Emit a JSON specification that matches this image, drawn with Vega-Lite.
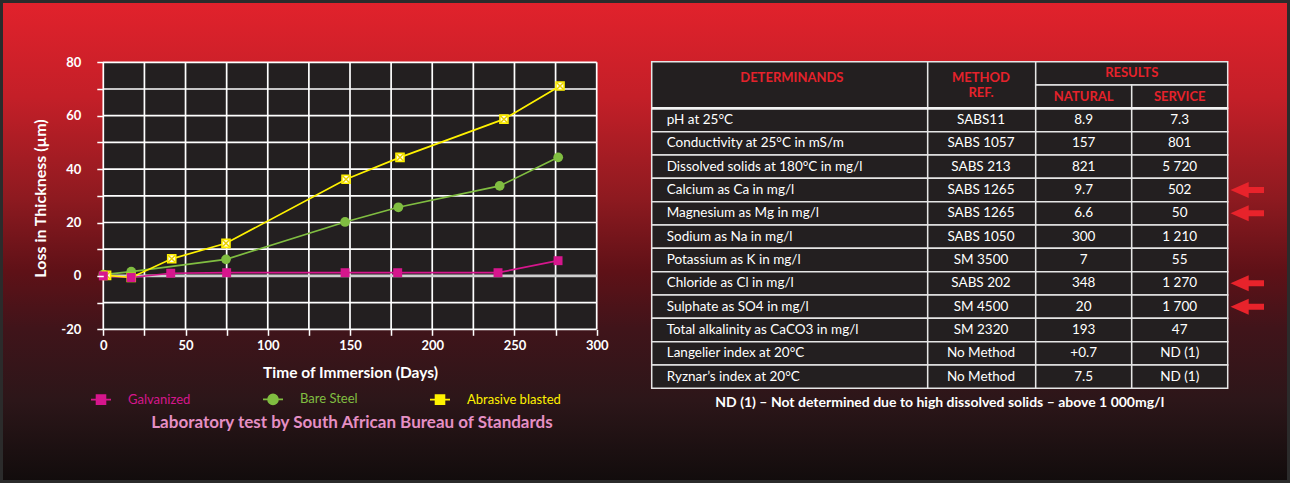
{
  "$schema": "https://vega.github.io/schema/vega-lite/v6.json",
  "width": 1290,
  "height": 483,
  "padding": 0,
  "autosize": {"type": "none"},
  "background": "#120d0d",
  "config": {"view": {"stroke": null}, "font": "Lato", "axis": {"grid": false, "domain": false}},
  "title": {"text": "Laboratory test by South African Bureau of Standards", "orient": "bottom", "anchor": "start", "frame": "group", "align": "center", "baseline": "middle", "dx": 352, "dy": -63, "offset": 0, "color": "#e58fc4", "fontSize": 17, "fontWeight": "bold", "font": "Lato"},
  "datasets": {
    "series": [
      {"series": "Galvanized", "day": 0, "loss": 0},
      {"series": "Galvanized", "day": 17, "loss": -0.6},
      {"series": "Galvanized", "day": 41, "loss": 1.0},
      {"series": "Galvanized", "day": 75, "loss": 1.2},
      {"series": "Galvanized", "day": 147, "loss": 1.2},
      {"series": "Galvanized", "day": 179, "loss": 1.2},
      {"series": "Galvanized", "day": 240, "loss": 1.2},
      {"series": "Galvanized", "day": 276.5, "loss": 5.7},
      {"series": "Bare Steel", "day": 0, "loss": 0.5},
      {"series": "Bare Steel", "day": 17, "loss": 1.6},
      {"series": "Bare Steel", "day": 74.6, "loss": 6.2},
      {"series": "Bare Steel", "day": 147, "loss": 20.2},
      {"series": "Bare Steel", "day": 179.4, "loss": 25.7},
      {"series": "Bare Steel", "day": 241, "loss": 33.7},
      {"series": "Bare Steel", "day": 276.6, "loss": 44.4},
      {"series": "Abrasive blasted", "day": 2, "loss": 0.2},
      {"series": "Abrasive blasted", "day": 17, "loss": -0.6},
      {"series": "Abrasive blasted", "day": 41.6, "loss": 6.4},
      {"series": "Abrasive blasted", "day": 74.6, "loss": 12.2},
      {"series": "Abrasive blasted", "day": 147.6, "loss": 36.2},
      {"series": "Abrasive blasted", "day": 180.4, "loss": 44.4},
      {"series": "Abrasive blasted", "day": 243.6, "loss": 58.7},
      {"series": "Abrasive blasted", "day": 277.7, "loss": 71.1}
    ],
    "gridx": [{"day": 0}, {"day": 25}, {"day": 50}, {"day": 75}, {"day": 100}, {"day": 125}, {"day": 150}, {"day": 175}, {"day": 200}, {"day": 225}, {"day": 250}, {"day": 275}, {"day": 300}],
    "gridy": [{"loss": -20}, {"loss": -10}, {"loss": 0}, {"loss": 10}, {"loss": 20}, {"loss": 30}, {"loss": 40}, {"loss": 50}, {"loss": 60}, {"loss": 70}, {"loss": 80}],
    "table": [
      {"row": "r1", "determinand": "pH at 25°C", "method": "SABS11", "natural": "8.9", "service": "7.3", "flag": false},
      {"row": "r2", "determinand": "Conductivity at 25°C in mS/m", "method": "SABS 1057", "natural": "157", "service": "801", "flag": false},
      {"row": "r3", "determinand": "Dissolved solids at 180°C in mg/l", "method": "SABS 213", "natural": "821", "service": "5 720", "flag": false},
      {"row": "r4", "determinand": "Calcium as Ca in mg/l", "method": "SABS 1265", "natural": "9.7", "service": "502", "flag": true},
      {"row": "r5", "determinand": "Magnesium as Mg in mg/l", "method": "SABS 1265", "natural": "6.6", "service": "50", "flag": true},
      {"row": "r6", "determinand": "Sodium as Na in mg/l", "method": "SABS 1050", "natural": "300", "service": "1 210", "flag": false},
      {"row": "r7", "determinand": "Potassium as K in mg/l", "method": "SM 3500", "natural": "7", "service": "55", "flag": false},
      {"row": "r8", "determinand": "Chloride as Cl in mg/l", "method": "SABS 202", "natural": "348", "service": "1 270", "flag": true},
      {"row": "r9", "determinand": "Sulphate as SO4 in mg/l", "method": "SM 4500", "natural": "20", "service": "1 700", "flag": true},
      {"row": "r10", "determinand": "Total alkalinity as CaCO3 in mg/l", "method": "SM 2320", "natural": "193", "service": "47", "flag": false},
      {"row": "r11", "determinand": "Langelier index at 20°C", "method": "No Method", "natural": "+0.7", "service": "ND (1)", "flag": false},
      {"row": "r12", "determinand": "Ryznar’s index at 20°C", "method": "No Method", "natural": "7.5", "service": "ND (1)", "flag": false}
    ]
  },
  "resolve": {"scale": {"x": "independent", "y": "independent"}},
  "layer": [
    {
      "data": {"values": [{}]},
      "mark": {"type": "rect", "stroke": "#2b2b2b", "strokeWidth": 6, "fill": {"gradient": "linear", "x1": 0, "y1": 0, "x2": 0, "y2": 1, "stops": [
        {"offset": 0, "color": "#e2222c"},
        {"offset": 0.2, "color": "#c41f28"},
        {"offset": 0.41, "color": "#8e1a20"},
        {"offset": 0.56, "color": "#5f1117"},
        {"offset": 0.68, "color": "#40141a"},
        {"offset": 0.83, "color": "#2c1619"},
        {"offset": 1, "color": "#110c0c"}
      ]}},
      "encoding": {}
    },
    {
      "layer": [
        {
          "data": {"values": [{}]},
          "mark": {"type": "rect", "fill": "#231f20"},
          "encoding": {
            "x": {"datum": 0, "type": "quantitative", "scale": {"domain": [0, 300], "range": [103.3, 596.7], "nice": false, "zero": false}},
            "x2": {"datum": 300},
            "y": {"datum": -20, "type": "quantitative", "scale": {"domain": [-20, 80], "range": [329.3, 62.3], "nice": false, "zero": false}},
            "y2": {"datum": 80}
          }
        },
        {
          "data": {"name": "gridx"},
          "mark": {"type": "rule", "color": "#ffffff", "strokeWidth": 1.7},
          "encoding": {
            "x": {"field": "day", "type": "quantitative"},
            "y": {"datum": -20, "type": "quantitative"},
            "y2": {"datum": 80}
          }
        },
        {
          "data": {"name": "gridy"},
          "mark": {"type": "rule"},
          "encoding": {
            "y": {"field": "loss", "type": "quantitative"},
            "x": {"datum": 0, "type": "quantitative"},
            "x2": {"datum": 300},
            "stroke": {"condition": {"test": "datum.loss === 0", "value": "#cfcfcf"}, "value": "#ffffff"},
            "strokeWidth": {"condition": {"test": "datum.loss === 0", "value": 2.6}, "value": 1.7}
          }
        },
        {
          "data": {"name": "series"},
          "mark": {"type": "line", "strokeWidth": 1.7},
          "encoding": {
            "x": {"field": "day", "type": "quantitative",
              "axis": {"zindex": 2, "values": [0, 25, 50, 75, 100, 125, 150, 175, 200, 225, 250, 275, 300], "labelExpr": "datum.value % 50 == 0 ? datum.label : ''", "orient": "bottom", "offset": -153.7, "domain": false, "grid": false, "ticks": true, "tickColor": "#ffffff", "tickSize": 6, "tickWidth": 1.5, "labelColor": "#ffffff", "labelFont": "Lato", "labelFontSize": 13, "labelFontWeight": "bold", "labelPadding": 4, "labelFlush": false, "labelOverlap": false, "title": "Time of Immersion (Days)", "titleColor": "#ffffff", "titleFont": "Lato", "titleFontSize": 15.5, "titleFontWeight": "bold", "titleX": 350, "titleY": 43, "titleBaseline": "middle", "titleAlign": "center"}},
            "y": {"field": "loss", "type": "quantitative",
              "axis": {"zindex": 2, "values": [-20, -10, 0, 10, 20, 30, 40, 50, 60, 70, 80], "labelExpr": "datum.value % 20 == 0 ? replace(datum.label, '−', '-') : ''", "orient": "left", "offset": -103.3, "domain": false, "grid": false, "ticks": true, "tickColor": "#ffffff", "tickSize": 6.5, "tickWidth": 1.5, "labelColor": "#ffffff", "labelFont": "Lato", "labelFontSize": 13, "labelFontWeight": "bold", "labelPadding": 16, "labelOverlap": false, "labelFlush": false, "title": "Loss in Thickness (µm)", "titleColor": "#ffffff", "titleFont": "Lato", "titleFontSize": 16, "titleFontWeight": "bold", "titleX": -63, "titleY": 198, "titleAngle": -90, "titleBaseline": "middle", "titleAlign": "center"}},
            "color": {"field": "series", "type": "nominal", "scale": {"domain": ["Galvanized", "Bare Steel", "Abrasive blasted"], "range": ["#d6168d", "#80bd41", "#fff200"]}}
          }
        },
        {
          "data": {"name": "series"},
          "mark": {"type": "point", "filled": true, "opacity": 0},
          "encoding": {
            "x": {"field": "day", "type": "quantitative"},
            "y": {"field": "loss", "type": "quantitative"},
            "color": {"field": "series", "type": "nominal", "scale": {"domain": ["Galvanized", "Bare Steel", "Abrasive blasted"], "range": ["#d6168d", "#80bd41", "#fff200"]},
              "legend": {"zindex": 2, "orient": "none", "legendX": 90, "legendY": 388, "direction": "horizontal", "title": null, "symbolSize": 400, "symbolStrokeWidth": 1.6, "symbolOpacity": 1, "symbolType": "M-1,0H1M-0.45,-0.45H0.45V0.45H-0.45Z", "labelFont": "Lato", "labelFontSize": 13, "labelOffset": 16, "columnPadding": 68, "padding": 0,
                "encode": {"symbols": {"update": {"shape": {"signal": "datum.value === 'Bare Steel' ? 'M-1,0H1M0.5,0A0.5,0.5,0,1,1,-0.5,0A0.5,0.5,0,1,1,0.5,0Z' : 'M-1,0H1M-0.45,-0.45H0.45V0.45H-0.45Z'"}, "stroke": {"scale": "color", "field": "value"}, "fill": {"scale": "color", "field": "value"}, "strokeWidth": {"value": 1.6}, "opacity": {"value": 1}, "size": {"value": 400}}}, "labels": {"update": {"fill": {"scale": "color", "field": "value"}}}}}}
          }
        },
        {
          "data": {"name": "series"},
          "transform": [{"filter": "datum.series === 'Bare Steel'"}],
          "mark": {"type": "point", "filled": true, "shape": "circle", "size": 95, "color": "#80bd41", "opacity": 1},
          "encoding": {"x": {"field": "day", "type": "quantitative"}, "y": {"field": "loss", "type": "quantitative"}}
        },
        {
          "data": {"name": "series"},
          "transform": [{"filter": "datum.series === 'Abrasive blasted'"}],
          "mark": {"type": "point", "filled": true, "shape": "square", "size": 64, "fill": "#fffce8", "stroke": "#fff200", "strokeWidth": 1.6, "opacity": 1},
          "encoding": {"x": {"field": "day", "type": "quantitative"}, "y": {"field": "loss", "type": "quantitative"}}
        },
        {
          "data": {"name": "series"},
          "transform": [{"filter": "datum.series === 'Abrasive blasted'"}],
          "mark": {"type": "point", "filled": false, "shape": "M-1,-1L1,1M-1,1L1,-1", "size": 50, "stroke": "#e8d000", "strokeWidth": 1.4, "opacity": 1},
          "encoding": {"x": {"field": "day", "type": "quantitative"}, "y": {"field": "loss", "type": "quantitative"}}
        },
        {
          "data": {"name": "series"},
          "transform": [{"filter": "datum.series === 'Galvanized'"}],
          "mark": {"type": "point", "filled": true, "shape": "square", "size": 80, "color": "#d6168d", "opacity": 1},
          "encoding": {"x": {"field": "day", "type": "quantitative"}, "y": {"field": "loss", "type": "quantitative"}}
        }
      ]
    },
    {
      "data": {"name": "table"},
      "layer": [
        {
          "mark": {"type": "rect", "fill": "#231f20", "stroke": "#e6e6e6", "strokeWidth": 1.5},
          "encoding": {
            "x": {"datum": "det1", "type": "nominal", "bandPosition": 0, "axis": null, "scale": {"type": "band", "domain": ["det1", "det2", "det3", "method", "natural", "service"], "range": [651.7, 1227.7], "paddingInner": 0, "paddingOuter": 0}},
            "x2": {"datum": "det3", "bandPosition": 0.875},
            "y": {"field": "row", "type": "nominal", "axis": null, "scale": {"type": "band", "domain": ["h1", "h2", "r1", "r2", "r3", "r4", "r5", "r6", "r7", "r8", "r9", "r10", "r11", "r12", "note"], "range": [61.7, 411.7], "paddingInner": 0, "paddingOuter": 0}}
          }
        },
        {
          "mark": {"type": "rect", "fill": "#231f20", "stroke": "#e6e6e6", "strokeWidth": 1.5},
          "encoding": {
            "x": {"datum": "det3", "type": "nominal", "bandPosition": 0.875, "axis": null},
            "x2": {"datum": "method", "bandPosition": 1},
            "y": {"field": "row", "type": "nominal", "axis": null}
          }
        },
        {
          "transform": [{"fold": ["natural", "service"], "as": ["col", "val"]}],
          "mark": {"type": "rect", "fill": "#231f20", "stroke": "#e6e6e6", "strokeWidth": 1.5},
          "encoding": {
            "x": {"field": "col", "type": "nominal", "axis": null},
            "y": {"field": "row", "type": "nominal", "axis": null}
          }
        },
        {
          "mark": {"type": "text", "align": "left", "baseline": "middle", "dx": 15, "fill": "#ffffff", "fontSize": 13.5, "font": "Lato"},
          "encoding": {
            "x": {"datum": "det1", "type": "nominal", "bandPosition": 0, "axis": null},
            "y": {"field": "row", "type": "nominal", "axis": null},
            "text": {"field": "determinand"}
          }
        },
        {
          "mark": {"type": "text", "align": "center", "baseline": "middle", "fill": "#ffffff", "fontSize": 13.5, "font": "Lato"},
          "encoding": {
            "x": {"datum": "method", "type": "nominal", "bandPosition": 0.43, "axis": null},
            "y": {"field": "row", "type": "nominal", "axis": null},
            "text": {"field": "method"}
          }
        },
        {
          "transform": [{"fold": ["natural", "service"], "as": ["col", "val"]}],
          "mark": {"type": "text", "align": "center", "baseline": "middle", "fill": "#ffffff", "fontSize": 13.5, "font": "Lato"},
          "encoding": {
            "x": {"field": "col", "type": "nominal", "axis": null},
            "y": {"field": "row", "type": "nominal", "axis": null},
            "text": {"field": "val"}
          }
        },
        {
          "transform": [{"filter": "datum.flag"}],
          "mark": {"type": "point", "filled": true, "shape": "M0.56,0L4.2,-1.6L4.2,-0.6L7.26,-0.6L7.26,0.6L4.2,0.6L4.2,1.6Z", "size": 100, "color": "#e8232b", "opacity": 1},
          "encoding": {
            "x": {"datum": "service", "type": "nominal", "bandPosition": 1, "axis": null},
            "y": {"field": "row", "type": "nominal", "axis": null}
          }
        },
        {
          "data": {"values": [{}]},
          "mark": {"type": "rect", "fill": "#231f20", "stroke": "#e6e6e6", "strokeWidth": 1.5},
          "encoding": {
            "x": {"datum": "det1", "type": "nominal", "bandPosition": 0, "axis": null},
            "x2": {"datum": "det3", "bandPosition": 0.875},
            "y": {"datum": "h1", "type": "nominal", "bandPosition": 0, "axis": null},
            "y2": {"datum": "h2", "bandPosition": 1}
          }
        },
        {
          "data": {"values": [{}]},
          "mark": {"type": "rect", "fill": "#231f20", "stroke": "#e6e6e6", "strokeWidth": 1.5},
          "encoding": {
            "x": {"datum": "det3", "type": "nominal", "bandPosition": 0.875, "axis": null},
            "x2": {"datum": "method", "bandPosition": 1},
            "y": {"datum": "h1", "type": "nominal", "bandPosition": 0, "axis": null},
            "y2": {"datum": "h2", "bandPosition": 1}
          }
        },
        {
          "data": {"values": [{}]},
          "mark": {"type": "rect", "fill": "#231f20", "stroke": "#e6e6e6", "strokeWidth": 1.5},
          "encoding": {
            "x": {"datum": "natural", "type": "nominal", "bandPosition": 0, "axis": null},
            "x2": {"datum": "service", "bandPosition": 1},
            "y": {"datum": "h1", "type": "nominal", "bandPosition": 0, "axis": null},
            "y2": {"datum": "h1", "bandPosition": 1}
          }
        },
        {
          "data": {"values": [{}]},
          "mark": {"type": "rect", "fill": "#231f20", "stroke": "#e6e6e6", "strokeWidth": 1.5},
          "encoding": {
            "x": {"datum": "natural", "type": "nominal", "bandPosition": 0, "axis": null},
            "x2": {"datum": "natural", "bandPosition": 1},
            "y": {"datum": "h2", "type": "nominal", "bandPosition": 0, "axis": null},
            "y2": {"datum": "h2", "bandPosition": 1}
          }
        },
        {
          "data": {"values": [{}]},
          "mark": {"type": "rect", "fill": "#231f20", "stroke": "#e6e6e6", "strokeWidth": 1.5},
          "encoding": {
            "x": {"datum": "service", "type": "nominal", "bandPosition": 0, "axis": null},
            "x2": {"datum": "service", "bandPosition": 1},
            "y": {"datum": "h2", "type": "nominal", "bandPosition": 0, "axis": null},
            "y2": {"datum": "h2", "bandPosition": 1}
          }
        },
        {
          "data": {"values": [{}]},
          "mark": {"type": "rule", "color": "#f2f2f2", "strokeWidth": 2.6},
          "encoding": {
            "x": {"datum": "det1", "type": "nominal", "bandPosition": 0, "axis": null},
            "x2": {"datum": "service", "bandPosition": 1},
            "y": {"datum": "r1", "type": "nominal", "bandPosition": 0, "axis": null}
          }
        },
        {
          "data": {"values": [{}]},
          "mark": {"type": "text", "align": "center", "baseline": "middle", "dy": -7, "fill": "#e5222b", "fontSize": 13, "fontWeight": "bold", "font": "Lato"},
          "encoding": {
            "x": {"datum": "det2", "type": "nominal", "bandPosition": 0.46, "axis": null},
            "y": {"datum": "h1", "type": "nominal", "bandPosition": 1, "axis": null},
            "text": {"value": "DETERMINANDS"}
          }
        },
        {
          "data": {"values": [{}]},
          "mark": {"type": "text", "align": "center", "baseline": "middle", "lineHeight": 15.5, "dy": -7.5, "fill": "#e5222b", "fontSize": 13, "fontWeight": "bold", "font": "Lato"},
          "encoding": {
            "x": {"datum": "method", "type": "nominal", "bandPosition": 0.43, "axis": null},
            "y": {"datum": "h1", "type": "nominal", "bandPosition": 1, "axis": null},
            "text": {"value": ["METHOD", "REF."]}
          }
        },
        {
          "data": {"values": [{}]},
          "mark": {"type": "text", "align": "center", "baseline": "middle", "fill": "#e5222b", "fontSize": 13, "fontWeight": "bold", "font": "Lato"},
          "encoding": {
            "x": {"datum": "service", "type": "nominal", "bandPosition": 0, "axis": null},
            "y": {"datum": "h1", "type": "nominal", "axis": null},
            "text": {"value": "RESULTS"}
          }
        },
        {
          "data": {"values": [{}]},
          "mark": {"type": "text", "align": "center", "baseline": "middle", "fill": "#e5222b", "fontSize": 13, "fontWeight": "bold", "font": "Lato"},
          "encoding": {
            "x": {"datum": "natural", "type": "nominal", "axis": null},
            "y": {"datum": "h2", "type": "nominal", "axis": null},
            "text": {"value": "NATURAL"}
          }
        },
        {
          "data": {"values": [{}]},
          "mark": {"type": "text", "align": "center", "baseline": "middle", "fill": "#e5222b", "fontSize": 13, "fontWeight": "bold", "font": "Lato"},
          "encoding": {
            "x": {"datum": "service", "type": "nominal", "axis": null},
            "y": {"datum": "h2", "type": "nominal", "axis": null},
            "text": {"value": "SERVICE"}
          }
        },
        {
          "data": {"values": [{}]},
          "mark": {"type": "text", "align": "center", "baseline": "middle", "dy": 3, "fill": "#ffffff", "fontSize": 14, "fontWeight": "bold", "font": "Lato"},
          "encoding": {
            "x": {"datum": "method", "type": "nominal", "bandPosition": 0, "axis": null},
            "y": {"datum": "note", "type": "nominal", "axis": null},
            "text": {"value": "ND (1) – Not determined due to high dissolved solids – above 1 000mg/l"}
          }
        }
      ]
    }
  ]
}
